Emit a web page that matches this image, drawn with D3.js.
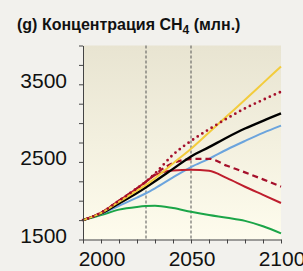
<!DOCTYPE html>
<html>
<head>
<meta charset="utf-8">
<script src="https://cdn.jsdelivr.net/npm/d3@7"></script>
<style>
  body { margin: 0; background: #f2f1ed; }
  svg { display: block; font-family: "Liberation Sans", Arial, sans-serif; }
</style>
</head>
<body>
<svg id="chart" width="303" height="271"></svg>
<script>
var years = [1990, 2000, 2010, 2020, 2025, 2030, 2040, 2050, 2060, 2070, 2080, 2090, 2100];

var yellow    = [1750, 1840, 1985, 2130, 2203, 2290, 2480, 2670, 2880, 3090, 3300, 3515, 3730];
var black     = [1750, 1835, 1966, 2100, 2174, 2250, 2410, 2570, 2690, 2815, 2930, 3030, 3125];
var blue      = [1750, 1830, 1935, 2040, 2096, 2160, 2300, 2433, 2540, 2660, 2770, 2875, 2968];
var redDotted = [1750, 1845, 2000, 2160, 2246, 2350, 2592, 2770, 2920, 3060, 3190, 3300, 3404];
var redDashed = [1750, 1845, 2000, 2160, 2246, 2340, 2484, 2536, 2540, 2450, 2365, 2275, 2181];
var redSolid  = [1750, 1845, 2000, 2160, 2246, 2330, 2390, 2398, 2385, 2290, 2180, 2075, 1970];
var green     = [1750, 1815, 1885, 1920, 1931, 1935, 1905, 1857, 1815, 1780, 1740, 1670, 1578];

var yTicks = [1500, 1750, 2000, 2250, 2500, 2750, 3000, 3250, 3500, 3750, 4000];
var yLabels = [1500, 2500, 3500];
var xTicks = [1990, 2000, 2010, 2020, 2030, 2040, 2050, 2060, 2070, 2080, 2090, 2100];
var xLabels = [2000, 2050, 2100];
var markers = [2025, 2050];

var margin = {top: 45.5, right: 22, bottom: 31.5, left: 83}
  , width = 303 - margin.left - margin.right
  , height = 271 - margin.top - margin.bottom;

var svg = d3.select("#chart");

// title
var title = svg.append("text")
    .attr("x", 17)
    .attr("y", 29.5)
    .attr("font-size", 16)
    .attr("font-weight", "bold")
    .attr("fill", "#111");
title.append("tspan").text("(g) Концентрация CH");
title.append("tspan").attr("font-size", 12).attr("dy", 4).text("4");
title.append("tspan").attr("dy", -4).text(" (млн.)");

var defs = svg.append("defs");
var grad = defs.append("linearGradient")
    .attr("id", "bg").attr("x1", 0).attr("y1", 0).attr("x2", 0).attr("y2", 1);
grad.append("stop").attr("offset", "0%").attr("stop-color", "#e8e4d1");
grad.append("stop").attr("offset", "100%").attr("stop-color", "#fefced");

var g = svg.append("g")
    .attr("transform", "translate(" + margin.left + "," + margin.top + ")");

var xScale = d3.scaleLinear().domain([1990, 2100]).range([0, width]);
var yScale = d3.scaleLinear().domain([1500, 4000]).range([height, 0]);

g.append("rect")
    .attr("width", width)
    .attr("height", height)
    .attr("fill", "url(#bg)");

// vertical dashed markers
g.selectAll(".marker")
    .data(markers)
    .enter().append("line")
    .attr("class", "marker")
    .attr("x1", function(d) { return xScale(d); })
    .attr("x2", function(d) { return xScale(d); })
    .attr("y1", 0)
    .attr("y2", height)
    .attr("stroke", "#555")
    .attr("stroke-width", 1)
    .attr("stroke-dasharray", "3,2");

var series = [
    {values: green, color: "#1ba548", dash: null, w: 2},
    {values: blue, color: "#6ba4dd", dash: null, w: 2},
    {values: redSolid, color: "#be1e2d", dash: null, w: 2},
    {values: redDashed, color: "#a5102b", dash: "6,4", w: 2.2},
    {values: black, color: "#000", dash: null, w: 2.4},
    {values: yellow, color: "#f3cc3c", dash: null, w: 2},
    {values: redDotted, color: "#a5102b", dash: "0,5.5", w: 2.8}
];

var line = d3.line()
    .x(function(d, i) { return xScale(years[i]); })
    .y(function(d) { return yScale(d); })
    .curve(d3.curveMonotoneX);

g.selectAll(".series")
    .data(series)
    .enter().append("path")
    .attr("class", "series")
    .attr("fill", "none")
    .attr("stroke", function(d) { return d.color; })
    .attr("stroke-width", function(d) { return d.w; })
    .attr("stroke-dasharray", function(d) { return d.dash; })
    .attr("stroke-linecap", function(d) { return d.dash && d.dash.charAt(0) === "0" ? "round" : "butt"; })
    .attr("d", function(d) { return line(d.values); });

// axes
var yAxis = g.append("g")
    .attr("class", "y axis")
    .call(d3.axisLeft(yScale).tickValues(yTicks).tickSize(4).tickSizeOuter(0).tickFormat(""));

var xAxis = g.append("g")
    .attr("class", "x axis")
    .attr("transform", "translate(0," + height + ")")
    .call(d3.axisBottom(xScale).tickValues(xTicks).tickSize(4).tickSizeOuter(0).tickFormat(""));

svg.selectAll(".axis path, .axis line").attr("stroke", "#444").attr("stroke-width", 1);

g.selectAll(".ylabel")
    .data(yLabels)
    .enter().append("text")
    .attr("class", "ylabel")
    .attr("x", -16)
    .attr("y", function(d) { return yScale(d) + 3.5; })
    .attr("text-anchor", "end")
    .attr("font-size", 21)
    .attr("fill", "#111")
    .text(function(d) { return d; });

g.selectAll(".xlabel")
    .data(xLabels)
    .enter().append("text")
    .attr("class", "xlabel")
    .attr("x", function(d) { return xScale(d) + 1; })
    .attr("y", height + 26.5)
    .attr("text-anchor", "middle")
    .attr("font-size", 21)
    .attr("fill", "#111")
    .text(function(d) { return d; });
</script>
</body>
</html>
